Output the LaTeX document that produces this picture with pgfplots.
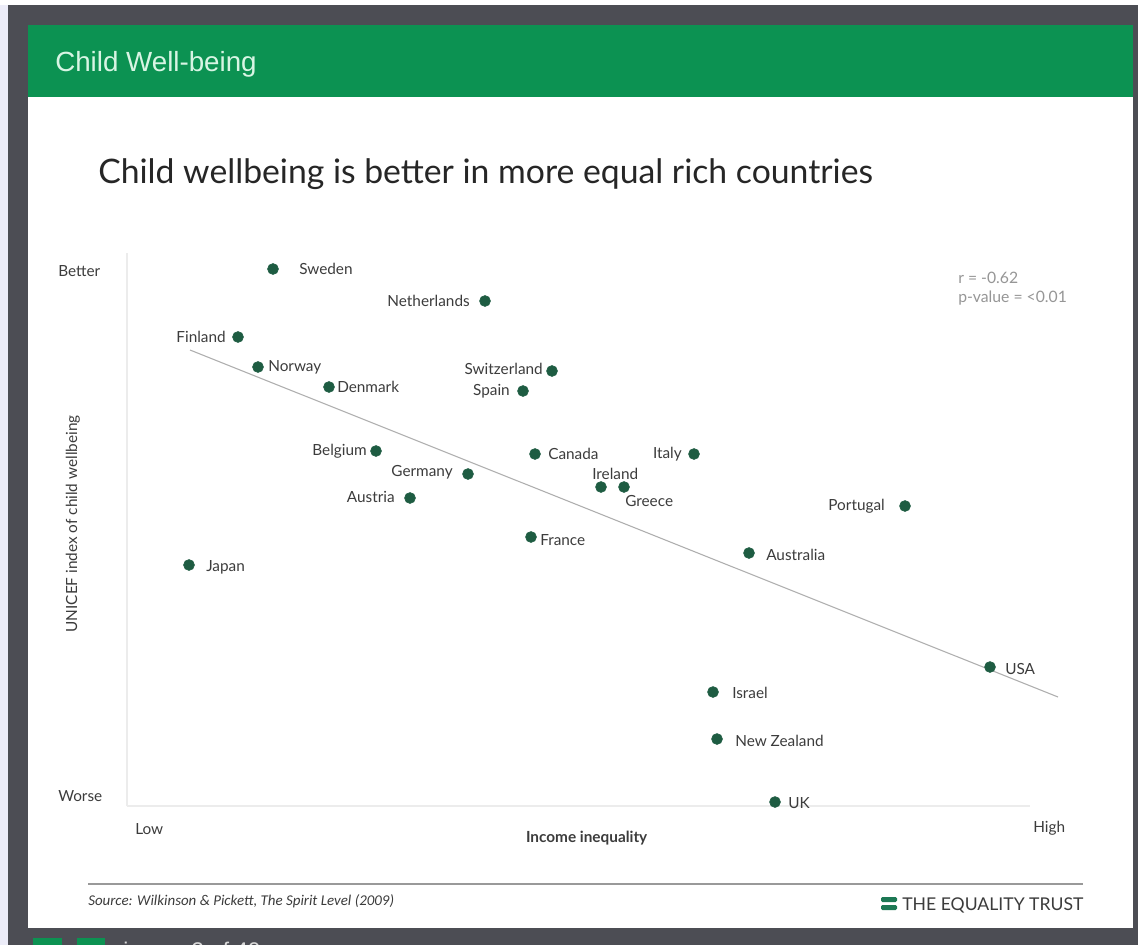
\documentclass[border=0pt]{standalone}
\usepackage{fontspec}
\setmainfont{Lato}
\newfontfamily\arialfont{Liberation Sans}
\newfontfamily\carlito{Carlito}
\usepackage{pgfplots}
\pgfplotsset{compat=1.18}

\definecolor{frame}{RGB}{76,77,84}
\definecolor{hdrgreen}{RGB}{12,146,82}
\definecolor{hdrtext}{RGB}{216,245,228}
\definecolor{dotgreen}{RGB}{30,92,66}
\definecolor{labelgray}{RGB}{60,60,60}
\definecolor{lightgray}{RGB}{150,150,150}
\definecolor{axisgray}{RGB}{236,236,236}
\definecolor{fitgray}{RGB}{175,175,175}
\definecolor{lavender}{RGB}{236,236,248}
\definecolor{logogreen}{RGB}{28,120,84}

\begin{document}
\begin{tikzpicture}
\begin{scope}[x=0.75pt,y=-0.75pt]
  \path[use as bounding box] (0,0) rectangle (1138,945);
  \fill[lavender] (0,0) rectangle (1138,945);
  \fill[white] (0,0) rectangle (1138,5);
  \fill[frame] (8,5) rectangle (1138,945);
  \fill[hdrgreen] (28,25) rectangle (1133,97);
  \fill[white] (28,97) rectangle (1133,928);
  \node[anchor=west, inner sep=0pt, text=hdrtext, font=\arialfont\fontsize{20.8pt}{24pt}\selectfont] at (55,64) {Child Well-being};
  \node[anchor=base west, inner sep=0pt, text=black!85, font=\fontsize{25.3pt}{30pt}\selectfont] at (98,184) {Child wellbeing is better in more equal rich countries};
  % axis end labels
  \node[anchor=base west, inner sep=0pt, text=labelgray, font=\fontsize{11.5pt}{13pt}\selectfont] at (58,276) {Better};
  \node[anchor=base west, inner sep=0pt, text=labelgray, font=\fontsize{11.5pt}{13pt}\selectfont] at (58,801) {Worse};
  \node[anchor=base west, inner sep=0pt, text=labelgray, font=\fontsize{11.5pt}{13pt}\selectfont] at (135,834) {Low};
  \node[anchor=base west, inner sep=0pt, text=labelgray, font=\fontsize{11.5pt}{13pt}\selectfont] at (1033,832) {High};
  % statistics
  \node[anchor=base west, inner sep=0pt, text=lightgray, font=\fontsize{11.8pt}{13pt}\selectfont] at (958,283) {r = -0.62};
  \node[anchor=base west, inner sep=0pt, text=lightgray, font=\fontsize{11.8pt}{13pt}\selectfont] at (958,302) {p-value = <0.01};
  % footer
  \draw[gray!80, line width=1.1pt] (88,884) -- (1083,884);
  \node[anchor=base west, inner sep=0pt, text=labelgray, font=\carlito\itshape\fontsize{11.2pt}{13pt}\selectfont] at (88,905) {Source: Wilkinson \& Pickett, The Spirit Level (2009)};
  \fill[logogreen, rounded corners=1pt] (881,897) rectangle (897,902);
  \fill[logogreen, rounded corners=1pt] (881,905) rectangle (897,910);
  \node[anchor=base west, inner sep=0pt, text=labelgray, font=\fontsize{13.2pt}{15pt}\selectfont] at (902,910) {THE EQUALITY TRUST};
  % bottom strip
  \fill[hdrgreen] (33,938) rectangle (62,960);
  \fill[hdrgreen] (77,938) rectangle (105,960);
  \node[anchor=base west, inner sep=0pt, text=white!85!black, font=\arialfont\fontsize{17pt}{20pt}\selectfont] at (123,958) {image 2 of 40};
\end{scope}

\begin{axis}[
  at={(95.25pt,-604.5pt)}, anchor=south west,
  scale only axis, width=677.25pt, height=414.75pt,
  xmin=127, xmax=1030, ymin=139, ymax=692,
  clip=false,
  axis lines=left,
  axis line style={-, draw=axisgray, line width=0.8pt},
  xtick=\empty, ytick=\empty,
  xlabel={\textbf{Income inequality}},
  ylabel={UNICEF index of child wellbeing},
  label style={font=\fontsize{11.5pt}{13pt}\selectfont, text=labelgray},
  xlabel style={at={(axis description cs:0.509,0)}, anchor=center, yshift=-24pt},
  ylabel style={at={(axis description cs:0,0.51)}, anchor=center, yshift=40.5pt},
]
\addplot[fitgray, line width=0.8pt] coordinates {(190,595) (1058,248)};
\addplot[
  only marks, mark=*, mark size=4.1pt,
  mark options={draw=dotgreen, fill=dotgreen},
  point meta=explicit symbolic,
  visualization depends on={value \thisrow{anc}\as\anc},
  visualization depends on={\thisrow{dx}\as\dx},
  visualization depends on={\thisrow{dy}\as\dy},
  nodes near coords,
  nodes near coords style={anchor=\anc, xshift=\dx*0.75pt, yshift=\dy*0.75pt, inner sep=0pt,
    font=\fontsize{11.5pt}{13pt}\selectfont, text=labelgray},
] table[x=x, y=y, meta=label, col sep=comma, row sep=\\] {
x,y,label,anc,dx,dy\\
273,676,Sweden,west,26,0\\
485,644,Netherlands,east,-15,0\\
238,608,Finland,east,-12,0\\
258,578,Norway,west,10,0\\
329,558,Denmark,west,8,0\\
552,574,Switzerland,east,-9,2\\
523,554,Spain,east,-13,0\\
376,494,Belgium,east,-9,0\\
468,471,Germany,east,-15,2\\
410,447,Austria,east,-15,1\\
535,491,Canada,west,13,0\\
694,491,Italy,east,-12,0\\
601,458,Ireland,south west,-9,7\\
624,458,Greece,north west,1,-8\\
905,439,Portugal,east,-20,0\\
531,408,France,west,9,-3\\
749,392,Australia,west,17,-2\\
189,380,Japan,west,17,-2\\
990,278,USA,west,15,-2\\
713,253,Israel,west,19,-1\\
717,206,New Zealand,west,18,-2\\
775,143,UK,west,13,-1\\
};
\end{axis}
\end{tikzpicture}
\end{document}
